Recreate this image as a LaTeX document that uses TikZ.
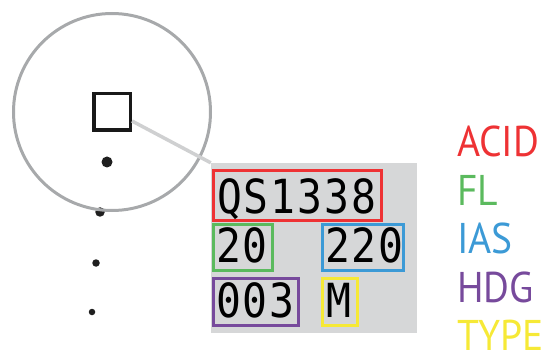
\documentclass[tikz,border=0pt]{standalone}
\usepackage{fontspec}
\newfontfamily\lcdfont[FakeStretch=0.88,LetterSpace=4]{DejaVu Sans Mono}
\newfontfamily\labfont[FakeStretch=0.92]{PT Sans}
\definecolor{cred}{HTML}{EE3234}
\definecolor{cgreen}{HTML}{5BBA5E}
\definecolor{cblue}{HTML}{3C9AD6}
\definecolor{cpurple}{HTML}{774A9C}
\definecolor{cyellow}{HTML}{F6E936}
\definecolor{blkgray}{HTML}{D6D7D8}
\definecolor{ringgray}{HTML}{A7A9AB}
\definecolor{leadgray}{HTML}{CFD0D1}
\tikzset{
  fieldbox/.style={draw=#1, line width=3.5pt, fill=blkgray},
  lcd/.style={anchor=base west, inner sep=0pt, font=\lcdfont\fontsize{47}{50}\selectfont},
  lab/.style={anchor=base west, inner sep=0pt, text=#1, font=\labfont\fontsize{43}{46}\selectfont},
  dotmark/.style={circle, fill=black!88, inner sep=0pt, minimum size=#1}
}
\begin{document}
\begin{tikzpicture}[x=1pt,y=-1pt]
\useasboundingbox (0,0) rectangle (550,361);
% dots
\node[dotmark=11pt] (d1) at (107,162) {};
\node[dotmark=9.5pt] (d2) at (100,212) {};
\node[dotmark=7.5pt] (d3) at (96,263) {};
\node[dotmark=6.5pt] (d4) at (92,312) {};
% ring
\node[circle, draw=ringgray, line width=3pt, minimum size=197pt, inner sep=0pt] (ring) at (112,112) {};
% aircraft square
\node[draw=black!90, line width=3.5pt, minimum size=36.5pt, inner sep=0pt] (sq) at (112,112) {};
% data block
\node[fill=blkgray, inner sep=0pt, minimum width=206pt, minimum height=170pt] (blk) at (314,248) {};
\coordinate (lead) at ([yshift=-9pt]sq.east);
\draw[leadgray, line width=3.5pt] (lead) -- (blk.north west);
% field boxes
\node[fieldbox=cred, inner sep=0pt, minimum width=168pt, minimum height=50pt] (acidbox) at (297.5,195.5) {};
\node[fieldbox=cgreen, inner sep=0pt, minimum width=59pt, minimum height=46pt] (flbox) at (243,247.5) {};
\node[fieldbox=cblue, inner sep=0pt, minimum width=81pt, minimum height=46pt] (iasbox) at (363,247.5) {};
\node[fieldbox=cpurple, inner sep=0pt, minimum width=85pt, minimum height=47pt] (hdgbox) at (256,302) {};
\node[fieldbox=cyellow, inner sep=0pt, minimum width=35pt, minimum height=47pt] (typebox) at (340,302) {};
% field texts
\node[lcd] (acid) at (217,214) {QS1338};
\node[lcd] (fl) at (216,262) {20};
\node[lcd] (ias) at (325,262) {220};
\node[lcd] (hdg) at (216,317) {003};
\node[lcd] (type) at (326,317) {M};
% legend
\node[lab=cred] (lacid) at (457,157) {ACID};
\node[lab=cgreen] (lfl) at (457,205) {FL};
\node[lab=cblue] (lias) at (457,253) {IAS};
\node[lab=cpurple] (lhdg) at (457,302) {HDG};
\node[lab=cyellow] (ltype) at (457,350) {TYPE};
\end{tikzpicture}
\end{document}
